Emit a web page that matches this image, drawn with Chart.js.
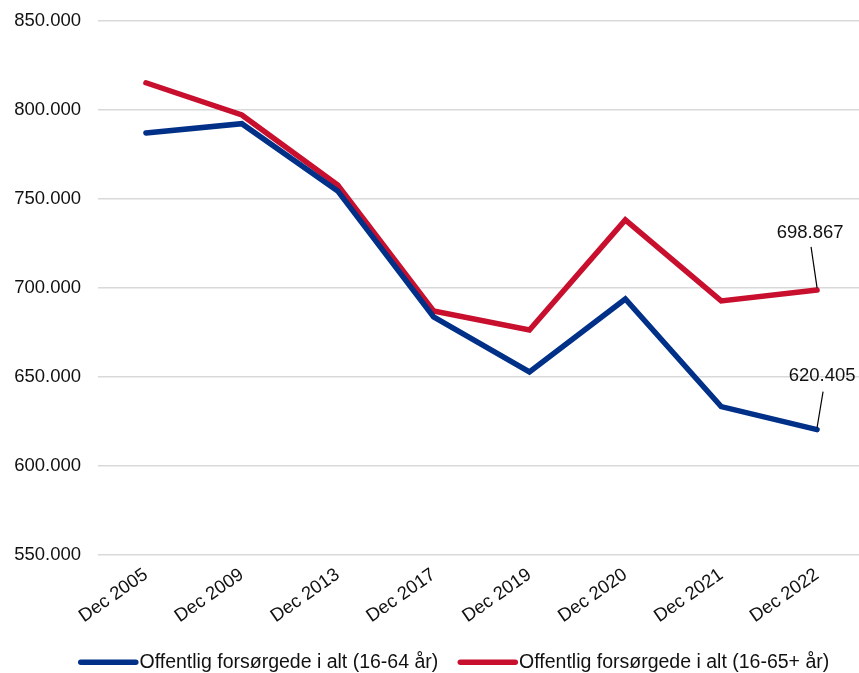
<!DOCTYPE html>
<html>
<head>
<meta charset="utf-8">
<script src="https://cdn.jsdelivr.net/npm/chart.js@4"></script>
<style>
  html, body { margin: 0; padding: 0; overflow: hidden; background: #fff; }
  #wrap { position: absolute; left: 0; top: 0; width: 898px; height: 682px; }
</style>
</head>
<body>
<div id="wrap"><canvas id="chart" width="898" height="682"></canvas></div>
<script>
const labels = ['Dec 2005', 'Dec 2009', 'Dec 2013', 'Dec 2017', 'Dec 2019', 'Dec 2020', 'Dec 2021', 'Dec 2022'];
const alt1664 = [787100, 792300, 754500, 683700, 652800, 693800, 633300, 620405];
const alt1665 = [815300, 797200, 757900, 687100, 676400, 738200, 692700, 698867];
const yTicks = [550000, 600000, 650000, 700000, 750000, 800000, 850000];

const fmt = v => new Intl.NumberFormat('da-DK').format(v);
const FONT = "'Liberation Sans', Arial, sans-serif";

// labels on the last point, with a short leader line
const endLabels = {
    id: 'endLabels',
    afterDatasetsDraw(chart) {
        const ctx = chart.ctx;
        const offs = [
            { tx: 5, ty: -54, lx: 6, ly: -38 },   // 16-64
            { tx: -7, ty: -57, lx: -6, ly: -43 }  // 16-65+
        ];
        chart.data.datasets.forEach((ds, i) => {
            const meta = chart.getDatasetMeta(i);
            const last = meta.data.length - 1;
            const pt = meta.data[last];
            const o = offs[i];
            ctx.save();
            ctx.strokeStyle = '#000';
            ctx.lineWidth = 1.2;
            ctx.beginPath();
            ctx.moveTo(pt.x, pt.y - 2);
            ctx.lineTo(pt.x + o.lx, pt.y + o.ly);
            ctx.stroke();
            ctx.fillStyle = '#111';
            ctx.font = '18.5px ' + FONT;
            ctx.textAlign = 'center';
            ctx.textBaseline = 'middle';
            ctx.fillText(fmt(ds.data[last]), pt.x + o.tx, pt.y + o.ty);
            ctx.restore();
        });
    }
};

// thick line samples in the legend, a bit longer than the box so the text sits close
const legendLines = {
    id: 'legendLines',
    afterLayout(chart) {
        // legend sits a little right of the canvas centre in the original
        chart.legend.left += 21;
        chart.legend.right += 21;
    },
    afterDraw(chart) {
        const lg = chart.legend;
        if (!lg || !lg.legendHitBoxes) return;
        const ctx = chart.ctx;
        lg.legendHitBoxes.forEach((hb, i) => {
            const ds = chart.data.datasets[i];
            const y = hb.top + hb.height / 2;
            ctx.save();
            ctx.strokeStyle = ds.borderColor;
            ctx.lineWidth = 5.5;
            ctx.lineCap = 'round';
            ctx.beginPath();
            ctx.moveTo(hb.left + 3, y);
            ctx.lineTo(hb.left + 58, y);
            ctx.stroke();
            ctx.restore();
        });
    }
};

new Chart(document.getElementById('chart'), {
    type: 'line',
    data: {
        labels: labels,
        datasets: [
            {
                label: 'Offentlig forsørgede i alt (16-64 år)',
                data: alt1664,
                borderColor: '#003087',
                backgroundColor: '#003087',
                borderWidth: 5.5,
                borderCapStyle: 'round',
                borderJoinStyle: 'miter',
                pointRadius: 0,
                tension: 0
            },
            {
                label: 'Offentlig forsørgede i alt (16-65+ år)',
                data: alt1665,
                borderColor: '#C8102E',
                backgroundColor: '#C8102E',
                borderWidth: 5.5,
                borderCapStyle: 'round',
                borderJoinStyle: 'miter',
                pointRadius: 0,
                tension: 0
            }
        ]
    },
    options: {
        responsive: false,
        animation: false,
        layout: { padding: { top: 21, right: 33, left: 0, bottom: 0 } },
        plugins: {
            tooltip: { enabled: false },
            legend: {
                position: 'bottom',
                labels: {
                    color: '#111',
                    font: { size: 19.5, family: FONT },
                    boxWidth: 52,
                    boxHeight: 5,
                    padding: 19,
                    generateLabels(chart) {
                        return Chart.defaults.plugins.legend.labels.generateLabels(chart).map(l => {
                            l.lineWidth = 0;
                            l.fillStyle = 'rgba(0,0,0,0)';
                            return l;
                        });
                    }
                }
            }
        },
        scales: {
            x: {
                offset: true,
                grid: { display: false, drawTicks: false },
                border: { display: false },
                afterFit(scale) {
                    scale.height -= 3;
                },
                ticks: {
                    color: '#111',
                    font: { size: 18.5, family: FONT },
                    minRotation: 35,
                    maxRotation: 35,
                    padding: 9
                }
            },
            y: {
                min: 550000,
                max: 850000,
                afterBuildTicks(scale) {
                    scale.ticks = yTicks.map(v => ({ value: v }));
                },
                afterFit(scale) {
                    scale.width = 98;
                    scale.paddingTop = 0;
                },
                grid: { color: '#d9d9d9', lineWidth: 1.5, drawTicks: false },
                border: { display: false },
                ticks: {
                    color: '#111',
                    font: { size: 18.5, family: FONT },
                    padding: 17,
                    callback: v => fmt(v)
                }
            }
        }
    },
    plugins: [endLabels, legendLines]
});
</script>
</body>
</html>
